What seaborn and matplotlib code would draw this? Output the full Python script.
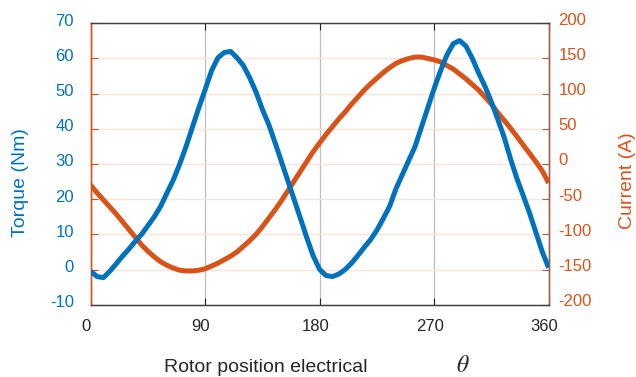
import numpy as np
import pandas as pd
import matplotlib
matplotlib.use("Agg")
import matplotlib.pyplot as plt
import matplotlib.transforms as mtransforms
import seaborn as sns

# ---- data ----
torque_angle = list(range(0, 361, 5))
torque_nm = [-0.5, -2.0, -2.3, -0.5, 1.6, 3.8, 5.8, 8.0, 10.0, 12.5,
             15.0, 18.0, 21.8, 25.5, 30.0, 35.0, 40.5, 46.0, 51.2, 56.5,
             60.2, 61.7, 62.0, 60.2, 58.0, 54.5, 50.4, 45.5, 41.2, 36.0,
             30.6, 25.2, 19.8, 14.4, 8.9, 3.8, 0.0, -1.7, -2.0, -1.3,
             0.0, 1.8, 4.0, 6.3, 8.5, 11.2, 14.5, 18.0, 23.0, 27.0,
             31.0, 35.0, 40.5, 46.0, 51.5, 56.5, 61.0, 64.2, 65.1, 63.5,
             60.0, 55.8, 52.0, 47.6, 42.7, 37.6, 31.5, 25.9, 21.0, 16.0,
             10.5, 5.0, 0.5]

current_angle = list(range(0, 361, 5))
current_a = [-30, -41, -51, -61, -71, -82, -93, -104, -115, -124,
             -132, -139, -144, -148, -151, -152, -152, -151, -149, -145,
             -141, -136, -131, -125, -117, -109, -100, -89, -77, -65,
             -52, -38, -24, -10, 4, 18, 30, 42, 53, 64,
             74, 85, 95, 105, 114, 122, 130, 137, 143, 147,
             150, 152, 152, 150, 148, 145, 140, 135, 128, 121,
             113, 105, 95, 85, 73, 62, 51, 39, 27, 15,
             3, -10, -27]

x_ticks = [0, 90, 180, 270, 360]
left_ticks = list(range(-10, 71, 10))
right_ticks = list(range(-200, 201, 50))

BLUE = "#0072BD"
ORANGE = "#D95319"
DARK = "#262626"

sns.set_theme(style="white")
plt.rcParams['font.family'] = ['Liberation Sans', 'DejaVu Sans']
plt.rcParams['mathtext.fontset'] = 'stix'
plt.rcParams['axes.unicode_minus'] = False

fig = plt.figure(figsize=(6.36, 3.77), dpi=100)
ax = fig.add_axes([0.1426, 0.1918, 0.7201, 0.7464])
ax2 = ax.twinx()

df_t = pd.DataFrame({"angle": torque_angle, "torque": torque_nm})
df_c = pd.DataFrame({"angle": current_angle, "current": current_a})

# grid lines
for v in x_ticks[1:-1]:
    ax2.axvline(v, color="#BDBDBD", lw=0.9, zorder=0)

ax2.set_ylim(-200, 200)
ax2.set_yticks(right_ticks)
ax2.yaxis.grid(True, color="#FBE3D9", lw=1.0)
ax2.set_axisbelow(True)

sns.lineplot(data=df_c, x="angle", y="current", ax=ax2, color=ORANGE,
             lw=3.6, solid_capstyle="butt", zorder=3)
sns.lineplot(data=df_t, x="angle", y="torque", ax=ax, color=BLUE,
             lw=3.6, solid_capstyle="butt", zorder=4)

# torque line drawn on top of current
ax.set_zorder(ax2.get_zorder() + 1)
ax.patch.set_visible(False)

ax.set_xlim(0, 360)
ax.set_ylim(-10, 70)
ax.set_xticks(x_ticks)
ax.set_yticks(left_ticks)
ax.set_xlabel("")
ax.set_ylabel("")
ax2.set_ylabel("")

ax.tick_params(axis="x", direction="in", top=True, bottom=True, length=5,
               width=0.8, color=DARK, labelcolor=DARK, labelsize=12, pad=10)
ax.tick_params(axis="y", direction="in", left=True, right=False, length=5,
               width=0.8, color=ORANGE, labelcolor=BLUE, labelsize=12, pad=12)
ax2.tick_params(axis="y", direction="in", right=True, length=5, width=0.8,
                color="#A0604A", labelcolor=ORANGE, labelsize=12, pad=7)
ax2.tick_params(axis="x", top=False, bottom=False)

for a in (ax, ax2):
    for s in ("top", "bottom"):
        a.spines[s].set_color("#404040")
        a.spines[s].set_linewidth(0.9)
    a.spines["left"].set_color(ORANGE)
    a.spines["left"].set_linewidth(1.0)
    a.spines["right"].set_color("#A0604A")
    a.spines["right"].set_linewidth(1.0)

# label offsets
up_l = mtransforms.ScaledTranslation(0, 3.5 / 100, fig.dpi_scale_trans)
up_r = mtransforms.ScaledTranslation(0, 4.5 / 100, fig.dpi_scale_trans)
left_x = mtransforms.ScaledTranslation(-4.5 / 100, 0, fig.dpi_scale_trans)
for lab in ax.get_yticklabels():
    lab.set_transform(lab.get_transform() + up_l)
for lab in ax2.get_yticklabels():
    lab.set_transform(lab.get_transform() + up_r)
for lab in ax.get_xticklabels():
    lab.set_transform(lab.get_transform() + left_x)

# axis titles
fig.text(21 / 636, 1 - 183 / 377, "Torque (Nm)", rotation=90, color=BLUE,
         fontsize=14, ha="center", va="center")
fig.text(627 / 636, 1 - 181 / 377, "Current (A)", rotation=90, color=ORANGE,
         fontsize=14, ha="center", va="center")
fig.text(266 / 636, 1 - 371.7 / 377, "Rotor position electrical", color=DARK,
         fontsize=14, ha="center", va="baseline")
fig.text(463 / 636, 1 - 366 / 377, r"$\theta$", color=DARK,
         fontsize=17, ha="center", va="center")

fig.savefig("out.png", dpi=100)
